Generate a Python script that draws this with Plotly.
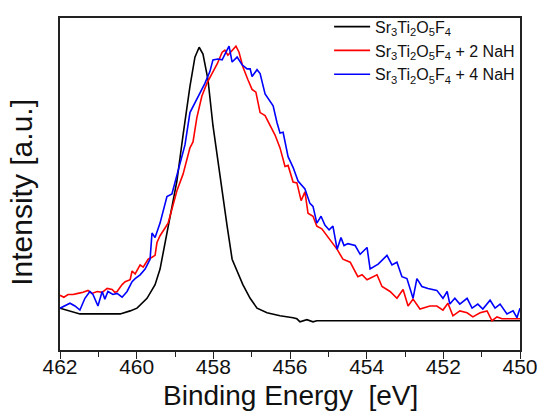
import plotly.graph_objects as go

# ---- data (binding energy in eV, normalized intensity in a.u.) ----
black_E = [462.00, 461.74, 461.48, 461.14, 460.70, 460.43, 460.17, 459.99, 459.73, 459.52,
           459.39, 459.26, 459.16, 458.95, 458.79, 458.61, 458.48, 458.37, 458.27, 458.14,
           458.01, 457.83, 457.64, 457.51, 457.38, 457.23, 457.04, 456.86, 456.60, 456.26,
           455.92, 455.82, 455.74, 455.56, 455.40, 455.30, 450.00]
black_I = [0.046, 0.036, 0.025, 0.025, 0.025, 0.025, 0.036, 0.046, 0.082, 0.132,
           0.189, 0.286, 0.354, 0.511, 0.679, 0.857, 0.964, 1.000, 0.975, 0.882,
           0.714, 0.525, 0.346, 0.225, 0.179, 0.132, 0.082, 0.046, 0.029, 0.018,
           0.011, 0.007, -0.004, 0.004, -0.004, 0.000, 0.000]

red_E = [462.00, 461.90, 461.79, 461.66, 461.53, 461.40, 461.27, 461.17, 461.03, 460.90,
         460.77, 460.64, 460.57, 460.51, 460.38, 460.30, 460.17, 460.12, 460.04, 459.91,
         459.83, 459.70, 459.60, 459.52, 459.47, 459.39, 459.26, 459.18, 458.95, 458.79,
         458.61, 458.53, 458.43, 458.30, 458.17, 458.03, 457.90, 457.77, 457.70, 457.62,
         457.51, 457.41, 457.33, 457.23, 457.10, 456.99, 456.89, 456.78, 456.65, 456.52,
         456.39, 456.26, 456.13, 456.05, 455.92, 455.82, 455.71, 455.61, 455.53, 455.40,
         455.30, 455.17, 454.96, 454.77, 454.62, 454.43, 454.23, 454.12, 453.99, 453.73,
         453.60, 453.39, 453.21, 453.05, 452.92, 452.79, 452.61, 452.35, 452.17, 452.01,
         451.88, 451.75, 451.57, 451.38, 451.23, 451.04, 450.86, 450.73, 450.60, 450.47,
         450.26, 450.00]
red_I = [0.093, 0.086, 0.096, 0.096, 0.100, 0.104, 0.111, 0.100, 0.107, 0.104,
         0.118, 0.114, 0.104, 0.107, 0.132, 0.143, 0.150, 0.182, 0.171, 0.204,
         0.196, 0.225, 0.232, 0.239, 0.286, 0.311, 0.339, 0.357, 0.475, 0.536,
         0.632, 0.654, 0.743, 0.821, 0.868, 0.904, 0.939, 0.982, 0.989, 0.971,
         0.989, 1.004, 0.982, 0.929, 0.882, 0.846, 0.836, 0.761, 0.750, 0.714,
         0.679, 0.632, 0.564, 0.568, 0.507, 0.504, 0.439, 0.471, 0.393, 0.382,
         0.346, 0.336, 0.296, 0.261, 0.225, 0.214, 0.161, 0.168, 0.150, 0.168,
         0.125, 0.107, 0.082, 0.114, 0.054, 0.079, 0.043, 0.054, 0.054, 0.039,
         0.064, 0.018, 0.036, 0.029, 0.014, 0.029, 0.036, 0.000, 0.014, 0.007,
         0.007, 0.007]

blue_E = [462.00, 461.87, 461.74, 461.61, 461.48, 461.35, 461.22, 461.14, 461.01, 460.90,
          460.83, 460.75, 460.62, 460.51, 460.38, 460.25, 460.12, 460.04, 459.91, 459.78,
          459.65, 459.60, 459.52, 459.39, 459.21, 459.08, 458.95, 458.74, 458.61, 458.48,
          458.35, 458.22, 458.09, 458.01, 457.88, 457.77, 457.67, 457.59, 457.51, 457.38,
          457.25, 457.12, 457.04, 456.99, 456.86, 456.78, 456.65, 456.57, 456.44, 456.34,
          456.26, 456.18, 456.05, 455.92, 455.79, 455.61, 455.48, 455.40, 455.30, 455.19,
          455.09, 454.98, 454.88, 454.77, 454.67, 454.59, 454.49, 454.30, 454.17, 453.99,
          453.91, 453.70, 453.47, 453.34, 453.21, 453.08, 452.95, 452.79, 452.69, 452.56,
          452.40, 452.17, 452.01, 451.90, 451.83, 451.70, 451.57, 451.38, 451.25, 451.10,
          450.97, 450.78, 450.65, 450.52, 450.34, 450.18, 450.08, 450.00]
blue_I = [0.046, 0.054, 0.064, 0.054, 0.039, 0.082, 0.107, 0.096, 0.054, 0.107,
          0.079, 0.107, 0.096, 0.100, 0.086, 0.107, 0.143, 0.154, 0.168, 0.189,
          0.225, 0.321, 0.304, 0.357, 0.454, 0.464, 0.536, 0.643, 0.761, 0.796,
          0.829, 0.868, 0.911, 0.954, 0.957, 0.954, 0.982, 1.004, 0.946, 0.964,
          0.936, 0.921, 0.921, 0.893, 0.918, 0.904, 0.829, 0.811, 0.786, 0.725,
          0.686, 0.689, 0.600, 0.561, 0.511, 0.482, 0.429, 0.418, 0.357, 0.382,
          0.350, 0.332, 0.346, 0.261, 0.304, 0.275, 0.282, 0.275, 0.243, 0.268,
          0.189, 0.207, 0.239, 0.204, 0.214, 0.161, 0.154, 0.082, 0.154, 0.125,
          0.118, 0.111, 0.082, 0.107, 0.061, 0.082, 0.061, 0.082, 0.046, 0.061,
          0.043, 0.075, 0.046, 0.061, 0.025, 0.036, 0.011, 0.046]

series_names = [
    "Sr<sub>3</sub>Ti<sub>2</sub>O<sub>5</sub>F<sub>4</sub>",
    "Sr<sub>3</sub>Ti<sub>2</sub>O<sub>5</sub>F<sub>4</sub> + 2 NaH",
    "Sr<sub>3</sub>Ti<sub>2</sub>O<sub>5</sub>F<sub>4</sub> + 4 NaH",
]
series_colors = ["#000000", "#ff0000", "#0000ff"]
x_ticks = [462, 460, 458, 456, 454, 452, 450]
x_title = "Binding Energy\u00a0\u00a0[eV]"
y_title = "Intensity [a.u.]"

FONT = "Liberation Sans, Arial, sans-serif"
TXT = "#111111"
AX = "#222222"

fig = go.Figure()
for E, I, name, col in zip([black_E, red_E, blue_E], [black_I, red_I, blue_I],
                           series_names, series_colors):
    fig.add_trace(go.Scatter(x=E, y=I, mode="lines", name=name,
                             line=dict(color=col, width=1.6)))

fig.update_layout(
    width=540, height=411,
    margin=dict(l=60, r=20, t=10, b=61),
    paper_bgcolor="white", plot_bgcolor="white",
    font=dict(family=FONT, color=TXT),
    showlegend=True,
    legend=dict(x=0.585, y=1.025, xanchor="left", yanchor="top",
                bgcolor="rgba(0,0,0,0)", borderwidth=0,
                font=dict(size=16, family=FONT, color=TXT),
                itemwidth=36, tracegroupgap=0),
)
fig.update_xaxes(
    range=[462, 450], tickvals=x_ticks, ticktext=[str(v) for v in x_ticks],
    ticks="outside", ticklen=7, tickwidth=1.3, tickcolor=AX,
    minor=dict(dtick=1, ticks="outside", ticklen=5, tickwidth=1.3, tickcolor=AX),
    showline=True, linecolor=AX, linewidth=1.6, mirror=True,
    showgrid=False, zeroline=False, automargin=False,
    ticklabelstandoff=-10,
    tickfont=dict(size=21, family=FONT, color=TXT),
)
fig.update_yaxes(
    range=[-0.107, 1.107], showticklabels=False, ticks="",
    showline=True, linecolor=AX, linewidth=1.6, mirror=True,
    showgrid=False, zeroline=False, automargin=False,
)
fig.add_annotation(text=x_title, xref="paper", yref="paper", x=0.5, y=-0.138,
                   xanchor="center", yanchor="middle", showarrow=False,
                   font=dict(size=28, family=FONT, color=TXT))
fig.add_annotation(text=y_title, xref="paper", yref="paper", x=-0.083, y=0.476,
                   xanchor="center", yanchor="middle", showarrow=False, textangle=-90,
                   font=dict(size=30, family=FONT, color=TXT))

# remove the browser's default page margin so the 540x411 figure fills the window exactly
fig.write_html("out.html",
               config={"displayModeBar": False},
               post_script="document.body.style.margin='0';document.body.style.overflow='hidden';")
